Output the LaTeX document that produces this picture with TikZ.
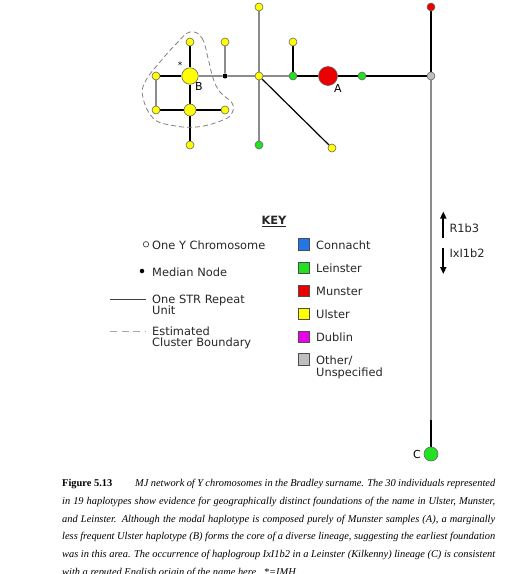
\documentclass[tikz,border=0pt]{standalone}
\usepackage{fontspec}
\setmainfont{Liberation Serif}
\newfontfamily\keyfont{DejaVu Sans}
\usetikzlibrary{arrows.meta,backgrounds}
\definecolor{connacht}{RGB}{30,120,230}
\definecolor{leinster}{RGB}{34,225,34}
\definecolor{munster}{RGB}{235,0,0}
\definecolor{ulster}{RGB}{255,255,0}
\definecolor{dublin}{RGB}{235,0,235}
\definecolor{otherc}{RGB}{190,190,190}
\definecolor{edgegray}{RGB}{140,140,140}
\begin{document}
\begin{tikzpicture}[x=1pt,y=-1pt,
  hap/.style={circle,draw=black!60,line width=0.6pt,inner sep=0pt,minimum size=#1},
  hap/.default=8pt,
  gedge/.style={draw=edgegray,line width=1.2pt},
  bedge/.style={draw=black,line width=1.2pt},
  keytext/.style={font={\keyfont\fontsize{11.4}{13}\selectfont},inner sep=0pt,anchor=base west,text=black!85},
  lbl/.style={font={\keyfont\fontsize{11}{13}\selectfont},inner sep=0pt},
  keysq/.style={draw=black!70,line width=0.6pt,minimum size=11.5pt,inner sep=0pt},
  captxt/.style={font={\fontsize{10.4}{12}\selectfont},inner sep=0pt,anchor=base west},
  boundary/.style={draw=gray,line width=0.8pt,dash pattern=on 5pt off 3pt}
]
\useasboundingbox (0,0) rectangle (513,574);

% ---------------- network nodes ----------------
\node[hap=8pt,fill=ulster] (ytop) at (259,7) {};
\node[hap=8pt,fill=munster] (rtop) at (431,7) {};
\node[hap=8pt,fill=ulster] (y1) at (190,42) {};
\node[hap=8pt,fill=ulster] (y2) at (225,42) {};
\node[hap=8pt,fill=ulster] (y3) at (293,42) {};
\node[hap=8pt,fill=ulster] (yl) at (156,76) {};
\node[hap=16.5pt,fill=ulster] (B) at (190,76) {};
\node[circle,fill=black,inner sep=0pt,minimum size=5pt] (med) at (225,76) {};
\node[hap=8pt,fill=ulster] (hub) at (259,76) {};
\node[hap=8pt,fill=leinster] (g1) at (293,76) {};
\node[hap=19pt,fill=munster] (A) at (328,76) {};
\node[hap=8pt,fill=leinster] (g2) at (362,76) {};
\node[hap=8pt,fill=otherc] (gr) at (431,76) {};
\node[hap=8pt,fill=ulster] (yll) at (156,110) {};
\node[hap=12pt,fill=ulster] (y5) at (190,110) {};
\node[hap=8pt,fill=ulster] (ylr) at (225,110) {};
\node[hap=8pt,fill=ulster] (yb) at (190,145) {};
\node[hap=8pt,fill=leinster] (g3) at (259,145) {};
\node[hap=8pt,fill=ulster] (yd) at (332,148) {};
\node[hap=14pt,fill=leinster] (C) at (431,454) {};
\coordinate (cshift) at (431,420);

\node[lbl] (labB) at (199,86) {B};
\node[lbl] (labA) at (338,88) {A};
\node[lbl] (labC) at (417,454) {C};
\node[lbl,font={\keyfont\fontsize{9}{10}\selectfont}] (star) at (180,65) {*};

\begin{scope}[on background layer]
  \draw[gedge] (ytop) -- (hub);
  \draw[bedge] (y1) -- (B);
  \draw[gedge] (y2) -- (med);
  \draw[bedge] (y3) -- (g1);
  \draw[bedge] (yl) -- (B);
  \draw[gedge] (B) -- (med);
  \draw[gedge] (med) -- (hub);
  \draw[gedge] (hub) -- (g1);
  \draw[bedge] (g1) -- (A);
  \draw[bedge] (A) -- (g2);
  \draw[bedge] (g2) -- (gr);
  \draw[bedge] (rtop) -- (gr);
  \draw[gedge] (gr) -- (cshift);
  \draw[bedge] (cshift) -- (C);
  \draw[gedge] (yl) -- (yll);
  \draw[bedge] (yll) -- (y5);
  \draw[bedge] (y5) -- (ylr);
  \draw[bedge] (B) -- (y5);
  \draw[bedge] (y5) -- (yb);
  \draw[gedge] (hub) -- (g3);
  \draw[bedge] (hub) -- (yd);
\end{scope}

% cluster boundary
\draw[boundary] plot[smooth cycle,tension=0.7] coordinates {
  (190,32) (202,38) (208,58) (213,78) (220,92) (232,103) (232,113) (223,120)
  (197,127) (170,125) (153,118) (143,98) (145,82) (160,62) (177,43)};

% haplogroup arrows
\coordinate (upb) at (443.3,237.5);
\coordinate (upt) at (443.3,211.5);
\coordinate (dnt) at (443.3,248.3);
\coordinate (dnb) at (443.3,274);
\draw[line width=1.7pt,-{Triangle[width=6pt,length=7pt]}] (upb) -- (upt);
\draw[line width=1.7pt,-{Triangle[width=6pt,length=7pt]}] (dnt) -- (dnb);
\node[keytext] (r1b3) at (449.3,232.3) {R1b3};
\node[keytext] (ixi) at (449.3,257.3) {IxI1b2};

% ---------------- key ----------------
\node[font={\keyfont\bfseries\fontsize{11.4}{13}\selectfont},inner sep=0pt,anchor=base,text=black!85] (keyt) at (274,224.3) {\underline{KEY}};

\node[circle,draw=black!80,line width=0.6pt,inner sep=0pt,minimum size=5.5pt] (kcirc) at (146,244.3) {};
\node[keytext] (k1) at (152,249) {One Y Chromosome};
\node[circle,fill=black,inner sep=0pt,minimum size=4.5pt] (kdot) at (142,271) {};
\node[keytext] (k2) at (152,276.7) {Median Node};
\coordinate (kl1) at (110,299);
\coordinate (kl2) at (146,299);
\draw[draw=black!75,line width=1pt] (kl1) -- (kl2);
\node[keytext] (k3a) at (152,303) {One STR Repeat};
\node[keytext] (k3b) at (152,314.3) {Unit};
\coordinate (kd1) at (110,331);
\coordinate (kd2) at (146,331);
\draw[draw=gray!70,line width=1pt,dash pattern=on 7pt off 4.5pt] (kd1) -- (kd2);
\node[keytext] (k4a) at (152,335) {Estimated};
\node[keytext] (k4b) at (152,346.5) {Cluster Boundary};

\node[keysq,fill=connacht] (s1) at (304,244.3) {};
\node[keytext] (t1) at (316,249) {Connacht};
\node[keysq,fill=leinster] (s2) at (304,268) {};
\node[keytext] (t2) at (316,272.7) {Leinster};
\node[keysq,fill=munster] (s3) at (304,290.7) {};
\node[keytext] (t3) at (316,295.7) {Munster};
\node[keysq,fill=ulster] (s4) at (304,313.7) {};
\node[keytext] (t4) at (316,318.7) {Ulster};
\node[keysq,fill=dublin] (s5) at (304,336.7) {};
\node[keytext] (t5) at (316,341.3) {Dublin};
\node[keysq,fill=otherc] (s6) at (304,359.3) {};
\node[keytext] (t6a) at (316,364.3) {Other/};
\node[keytext] (t6b) at (316,376) {Unspecified};

% ---------------- caption ----------------
\node[captxt] (cap0) at (62,486.5) {\textbf{Figure 5.13}};
\node[captxt] (cap1) at (135,486.5) {\makebox[360pt][s]{\itshape MJ network of Y chromosomes in the Bradley surname. The 30 individuals represented}};
\node[captxt] (cap2) at (62,504.3) {\makebox[433pt][s]{\itshape in 19 haplotypes show evidence for geographically distinct foundations of the name in Ulster, Munster,}};
\node[captxt] (cap3) at (62,522) {\makebox[433pt][s]{\itshape and Leinster. Although the modal haplotype is composed purely of Munster samples (A), a marginally}};
\node[captxt] (cap4) at (62,539.8) {\makebox[433pt][s]{\itshape less frequent Ulster haplotype (B) forms the core of a diverse lineage, suggesting the earliest foundation}};
\node[captxt] (cap5) at (62,557.5) {\makebox[433pt][s]{\itshape was in this area. The occurrence of haplogroup IxI1b2 in a Leinster (Kilkenny) lineage (C) is consistent}};
\node[captxt] (cap6) at (62,575.3) {\itshape with a reputed English origin of the name here.\ \ *=IMH};
\end{tikzpicture}
\end{document}
